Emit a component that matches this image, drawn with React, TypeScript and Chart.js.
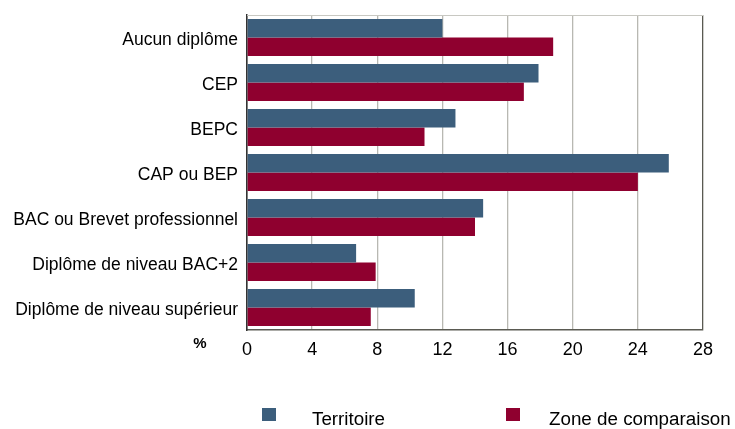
import React, { useEffect, useRef } from "react";
import { Chart, registerables } from "chart.js";

Chart.register(...registerables);

const categories = [
  "Aucun diplôme",
  "CEP",
  "BEPC",
  "CAP ou BEP",
  "BAC ou Brevet professionnel",
  "Diplôme de niveau BAC+2",
  "Diplôme de niveau supérieur",
];
const territoire = [12.0, 17.9, 12.8, 25.9, 14.5, 6.7, 10.3];
const zoneComparaison = [18.8, 17.0, 10.9, 24.0, 14.0, 7.9, 7.6];
const seriesLabels = ["Territoire", "Zone de comparaison"];
const xTicks = [0, 4, 8, 12, 16, 20, 24, 28];

const BLUE = "#3c5e7c";
const RED = "#8f002f";
const FONT = "'Liberation Sans', Arial, sans-serif";

export default function App() {
  const ref = useRef<HTMLCanvasElement>(null);
  useEffect(() => {
    document.body.style.margin = "0";
    const ctx = ref.current!;
    const extras = {
      id: "extras",
      afterDraw(chart: any) {
        const c = chart.ctx;
        const a = chart.chartArea;
        c.save();
        c.strokeStyle = "#c8c8c2";
        c.lineWidth = 1;
        c.beginPath();
        c.moveTo(a.left, a.top + 0.5);
        c.lineTo(a.right, a.top + 0.5);
        c.stroke();
        // percent label
        c.fillStyle = "#000";
        c.font = "bold 15px " + FONT;
        c.textAlign = "center";
        c.textBaseline = "middle";
        c.fillText("%", 200, a.bottom + 14);
        // legend
        const items = [
          { x: 262, tx: 312, color: BLUE, label: seriesLabels[0] },
          { x: 506, tx: 549, color: RED, label: seriesLabels[1] },
        ];
        c.font = "18.8px " + FONT;
        c.textAlign = "left";
        c.textBaseline = "alphabetic";
        items.forEach((it) => {
          c.fillStyle = it.color;
          c.fillRect(it.x, 408, 14, 13);
          c.fillStyle = "#000";
          c.fillText(it.label, it.tx, 425);
        });
        c.restore();
      },
    };
    const chart = new Chart(ctx, {
      type: "bar",
      data: {
        labels: categories,
        datasets: [
          { label: seriesLabels[0], data: territoire, backgroundColor: BLUE },
          { label: seriesLabels[1], data: zoneComparaison, backgroundColor: RED },
        ],
      },
      options: {
        indexAxis: "y",
        responsive: false,
        animation: false,
        layout: { padding: { top: 15, right: 32, left: 0, bottom: 0 } },
        datasets: { bar: { categoryPercentage: 0.82, barPercentage: 1 } },
        plugins: { legend: { display: false }, tooltip: { enabled: false } },
        scales: {
          x: {
            min: 0,
            max: 28,
            afterBuildTicks(axis: any) {
              axis.ticks = xTicks.map((v) => ({ value: v }));
            },
            afterFit(axis: any) {
              axis.height = 99;
              axis.paddingLeft = 0;
              axis.paddingRight = 0;
            },
            grid: {
              color: (c: any) =>
                c.tick && (c.tick.value === 0 || c.tick.value === 28) ? "#5a5a52" : "#b8b8b2",
              lineWidth: 1.3,
              tickLength: 0,
              drawTicks: false,
            },
            border: { display: true, color: "#5a5a52", width: 1.5 },
            ticks: {
              color: "#000",
              font: { family: FONT, size: 18 },
              padding: 9,
            },
          },
          y: {
            afterFit(axis: any) {
              axis.width = 247;
              axis.paddingTop = 0;
              axis.paddingBottom = 0;
            },
            grid: { display: false, drawTicks: false, tickLength: 0 },
            border: { display: true, color: "#333", width: 1.5 },
            ticks: {
              color: "#000",
              font: { family: FONT, size: 17.5 },
              padding: 9,
              labelOffset: 3,
            },
          },
        },
      },
      plugins: [extras],
    });
    return () => chart.destroy();
  }, []);
  return (
    <div style={{ width: 735, height: 429 }}>
      <canvas ref={ref} width={735} height={429} />
    </div>
  );
}
